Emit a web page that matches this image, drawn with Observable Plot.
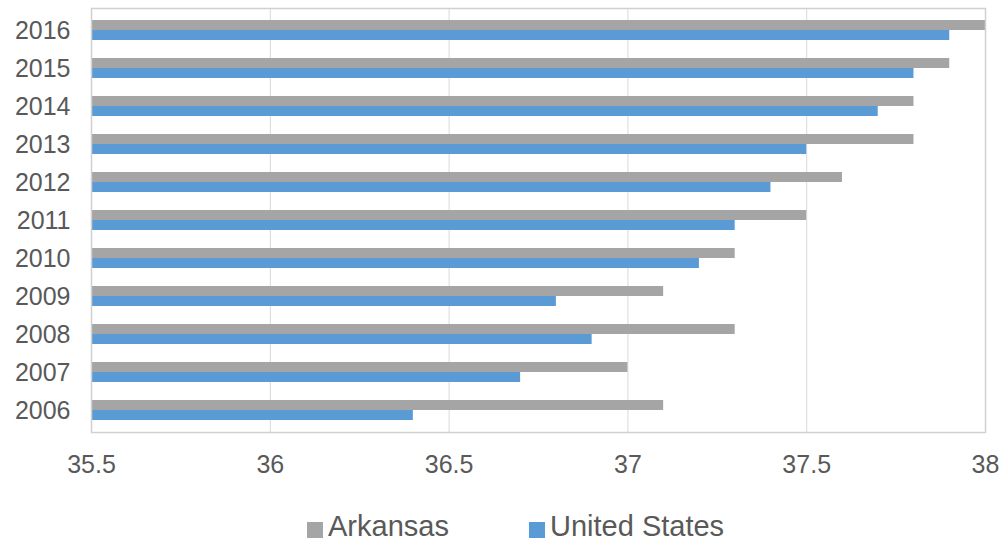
<!DOCTYPE html>
<html>
<head>
<meta charset="utf-8">
<script src="https://cdn.jsdelivr.net/npm/d3@7"></script>
<script src="https://cdn.jsdelivr.net/npm/@observablehq/plot@0.6"></script>
<style>
  html, body { margin: 0; padding: 0; background: #fff; }
  #chart { width: 1001px; height: 541px; position: relative; font-family: "Liberation Sans", Arial, sans-serif; }
  #chart svg { display: block; }
  #legend { position: absolute; left: 0; top: 509px; width: 1001px; height: 32px; }
  .item { position: absolute; top: 0; display: flex; align-items: center; font-size: 29px; color: #595959; line-height: 35px; }
  .swatch { width: 16px; height: 16px; margin-right: 5px; margin-top: 6px; }
</style>
</head>
<body>
<div id="chart"></div>
<script>
// Median age by year, Arkansas vs. United States
const years = ["2006", "2007", "2008", "2009", "2010", "2011", "2012", "2013", "2014", "2015", "2016"];
const arkansas = [37.1, 37.0, 37.3, 37.1, 37.3, 37.5, 37.6, 37.8, 37.8, 37.9, 38.0];
const unitedStates = [36.4, 36.7, 36.9, 36.8, 37.2, 37.3, 37.4, 37.5, 37.7, 37.8, 37.9];
const xTicks = [35.5, 36, 36.5, 37, 37.5, 38];
const seriesNames = ["Arkansas", "United States"];
const seriesColors = ["#A5A5A5", "#5B9BD5"];

const rows = years.map((year, i) => ({year, arkansas: arkansas[i], us: unitedStates[i]}));
const xMin = xTicks[0];
const xMax = xTicks[xTicks.length - 1];

const chart = Plot.plot({
  width: 1001,
  height: 490,
  marginTop: 8,
  marginBottom: 58,
  marginLeft: 91,
  marginRight: 16,
  style: {fontFamily: "Liberation Sans, Arial, sans-serif", fontSize: "25px", color: "#595959", background: "#fff"},
  x: {domain: [xMin, xMax], ticks: xTicks, tickSize: 0, tickPadding: 23, label: null, tickFormat: d => String(d)},
  y: {domain: years.slice().reverse(), paddingInner: 0.48, paddingOuter: 0.24, tickSize: 0, tickPadding: 21, label: null},
  marks: [
    Plot.ruleX(xTicks, {stroke: "#D9D9D9", strokeWidth: 1}),
    Plot.barX(rows, {y: "year", x1: () => xMin, x2: "arkansas", fill: seriesColors[0], insetBottom: 10}),
    Plot.barX(rows, {y: "year", x1: () => xMin, x2: "us", fill: seriesColors[1], insetTop: 10}),
    Plot.frame({stroke: "#D0D0D0", strokeWidth: 1.5})
  ]
});

const root = document.getElementById("chart");
root.appendChild(chart);

// Legend below the plot
const legend = document.createElement("div");
legend.id = "legend";
const legendLeft = [307, 529];
seriesNames.forEach((name, i) => {
  const item = document.createElement("div");
  item.className = "item";
  item.style.left = legendLeft[i] + "px";
  const sw = document.createElement("span");
  sw.className = "swatch";
  sw.style.background = seriesColors[i];
  const label = document.createElement("span");
  label.textContent = name;
  item.appendChild(sw);
  item.appendChild(label);
  legend.appendChild(item);
});
root.appendChild(legend);
</script>
</body>
</html>
